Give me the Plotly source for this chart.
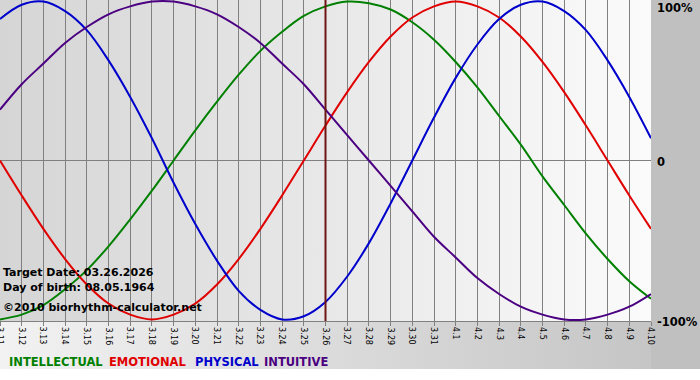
import base64
import plotly.graph_objects as go

# ---- data ----
day_labels = ["3.11", "3.12", "3.13", "3.14", "3.15", "3.16", "3.17", "3.18", "3.19", "3.20",
              "3.21", "3.22", "3.23", "3.24", "3.25", "3.26", "3.27", "3.28", "3.29", "3.30",
              "3.31", "4.1", "4.2", "4.3", "4.4", "4.5", "4.6", "4.7", "4.8", "4.9", "4.10"]
intellectual = [-1.00, -0.97, -0.91, -0.81, -0.69, -0.54, -0.37, -0.19, 0.00, 0.19,
                0.37, 0.54, 0.69, 0.81, 0.91, 0.97, 1.00, 0.99, 0.95, 0.87,
                0.76, 0.62, 0.46, 0.28, 0.10, -0.10, -0.28, -0.46, -0.62, -0.76, -0.87]
emotional = [0.00, -0.22, -0.43, -0.62, -0.78, -0.90, -0.97, -1.00, -0.97, -0.90,
             -0.78, -0.62, -0.43, -0.22, 0.00, 0.22, 0.43, 0.62, 0.78, 0.90,
             0.97, 1.00, 0.97, 0.90, 0.78, 0.62, 0.43, 0.22, 0.00, -0.22, -0.43]
physical = [0.89, 0.98, 1.00, 0.94, 0.82, 0.63, 0.40, 0.14, -0.14, -0.40,
            -0.63, -0.82, -0.94, -1.00, -0.98, -0.89, -0.73, -0.52, -0.27, 0.00,
            0.27, 0.52, 0.73, 0.89, 0.98, 1.00, 0.94, 0.82, 0.63, 0.40, 0.14]
intuitive = [0.32, 0.48, 0.61, 0.74, 0.84, 0.92, 0.97, 1.00, 1.00, 0.97,
             0.92, 0.84, 0.74, 0.61, 0.48, 0.32, 0.16, 0.00, -0.16, -0.32,
             -0.48, -0.61, -0.74, -0.84, -0.92, -0.97, -1.00, -1.00, -0.97, -0.92, -0.84]
target_label = "3.26"
target_date = "03.26.2026"
birth_date = "08.05.1964"
y_labels = ["100%", "0", "-100%"]

series = [
    ("INTELLECTUAL", intellectual, "#008000"),
    ("EMOTIONAL", emotional, "#e00000"),
    ("PHYSICAL", physical, "#0000cc"),
    ("INTUITIVE", intuitive, "#4b0082"),
]
legend_px = [7, 107, 193, 262]
x_idx = list(range(len(day_labels)))
FONT = "Verdana, DejaVu Sans, sans-serif"

W, H = 700, 380
L, R, T, B = 0, 49, 0, 59
PW, PH = W - L - R, H - T - B

svg = f"""<svg xmlns='http://www.w3.org/2000/svg' width='{W}' height='{H}' viewBox='0 0 {W} {H}' preserveAspectRatio='none'>
<defs>
<linearGradient id='a' x1='0' x2='1' y1='0' y2='0'><stop offset='0' stop-color='#d5d5d5'/><stop offset='1' stop-color='#fbfbfb'/></linearGradient>
<linearGradient id='b' x1='0' x2='1' y1='0' y2='0'><stop offset='0' stop-color='#f2f2f2'/><stop offset='1' stop-color='#c2c2c2'/></linearGradient>
</defs>
<rect x='0' y='0' width='{W}' height='{H}' fill='#ffffff'/>
<rect x='0' y='{PH}' width='{W}' height='48' fill='url(#b)'/>
<rect x='{PW}' y='0' width='{R}' height='{PH + 48}' fill='#c0c0c0'/>
<rect x='0' y='0' width='{PW}' height='{PH}' fill='url(#a)'/>
</svg>"""
bg_src = "data:image/svg+xml;base64," + base64.b64encode(svg.encode()).decode()

fig = go.Figure()
for name, vals, col in series:
    fig.add_trace(go.Scatter(x=x_idx, y=vals, mode="lines", name=name,
                             line=dict(color=col, width=2, shape="spline", smoothing=1.0),
                             showlegend=False, hoverinfo="skip"))

t_idx = day_labels.index(target_label)
fig.add_shape(type="line", xref="x", yref="paper", x0=t_idx, x1=t_idx, y0=0, y1=1,
              line=dict(color="#6e1414", width=2), layer="above")

fig.add_layout_image(dict(source=bg_src, xref="paper", yref="paper", x=0, y=1,
                          sizex=W / PW, sizey=H / PH, sizing="stretch",
                          xanchor="left", yanchor="top", layer="below"))

def py(p):
    return 1 - p / PH

# rotated day labels hanging from the axis (top-aligned)
for i, lab in zip(x_idx, day_labels):
    fig.add_annotation(text=lab, xref="x", yref="paper", x=i, y=0,
                       xanchor="center", yanchor="top", yshift=-5, textangle=90,
                       showarrow=False, borderpad=0,
                       font=dict(family=FONT, size=8, color="#000000"))

anns = [
    (f"<b>Target Date: {target_date}</b>", 272),
    (f"<b>Day of birth: {birth_date}</b>", 287),
    ("<b>©2010 biorhythm-calculator.net</b>", 307),
]
for txt, yy in anns:
    fig.add_annotation(text=txt, xref="paper", yref="paper", x=0, y=py(yy),
                       xanchor="left", yanchor="middle", xshift=1, showarrow=False,
                       font=dict(family=FONT, size=11, color="#000000"))

for lab, yv, ya in [(y_labels[0], 1, "top"), (y_labels[1], 0.5, "middle"), (y_labels[2], 0, "middle")]:
    fig.add_annotation(text=f"<b>{lab}</b>", xref="paper", yref="paper", x=1, y=yv,
                       xanchor="left", yanchor=ya, xshift=4, yshift=1 if ya == "top" else -1,
                       showarrow=False, font=dict(family=FONT, size=11.5, color="#000000"))

for (name, _, col), px in zip(series, legend_px):
    fig.add_annotation(text=f"<b>{name}</b>", xref="paper", yref="paper", x=px / PW, y=py(362),
                       xanchor="left", yanchor="middle", showarrow=False,
                       font=dict(family=FONT, size=11.5, color=col))

fig.update_layout(
    width=W, height=H,
    margin=dict(l=L, r=R, t=T, b=B, pad=0),
    paper_bgcolor="rgba(0,0,0,0)", plot_bgcolor="rgba(0,0,0,0)",
    xaxis=dict(range=[0, len(day_labels) - 1], tickmode="array", tickvals=x_idx,
               showticklabels=False, showgrid=True, gridcolor="#808080",
               gridwidth=1, zeroline=False, showline=True, linecolor="#808080",
               ticks="outside", ticklen=4, tickcolor="#808080", fixedrange=True),
    yaxis=dict(range=[-1.01, 1.01], showgrid=False, zeroline=True, zerolinecolor="#808080",
               zerolinewidth=1, showticklabels=False, showline=False, fixedrange=True),
    showlegend=False,
)

fig.write_html("out.html")
